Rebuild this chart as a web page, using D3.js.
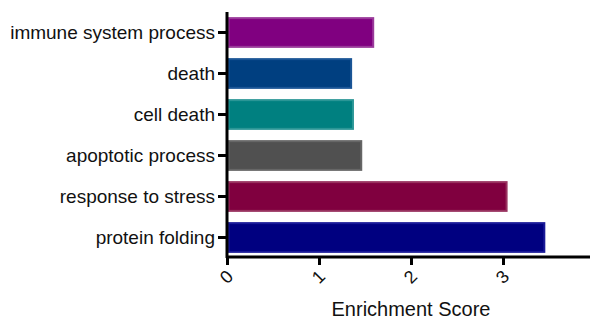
<!DOCTYPE html>
<html>
<head>
<meta charset="utf-8">
<script src="https://cdn.jsdelivr.net/npm/d3@7"></script>
<style>
  body { margin: 0; background: #fff; }
  svg text { font-family: "Liberation Sans", Arial, sans-serif; fill: #111; }
</style>
</head>
<body>
<div class="chart"></div>
<script>
var svgWidth = 590;
var svgHeight = 319;

// data, top bar first
var terms = ["immune system process", "death", "cell death", "apoptotic process", "response to stress", "protein folding"];
var scores = [1.60, 1.36, 1.38, 1.47, 3.05, 3.46];
var fills = ["#800080", "#003f80", "#008080", "#505050", "#80003f", "#000080"];
var edges = ["#9a3a9a", "#1a5596", "#2a9696", "#666666", "#98325f", "#1a1a98"];
var xTicks = [0, 1, 2, 3, 4];

var margin = { top: 12, left: 227 };
var plotH = 246;

var svg = d3.select(".chart")
  .append("svg")
  .attr("width", svgWidth)
  .attr("height", svgHeight);

var chart = svg.append("g")
  .attr("transform", "translate(" + margin.left + "," + margin.top + ")");

var xScale = d3.scaleLinear().domain([0, 4]).range([0, 368]);
var yScale = d3.scaleBand().domain(terms).range([0, plotH]).paddingInner(0.25).paddingOuter(0.125);

chart.selectAll("rect.bar")
  .data(terms)
  .enter()
  .append("rect")
  .attr("class", "bar")
  .attr("x", 1.5)
  .attr("y", function(d) { return yScale(d) + 1; })
  .attr("width", function(d, i) { return xScale(scores[i]) - 2.5; })
  .attr("height", yScale.bandwidth() - 2)
  .attr("fill", function(d, i) { return fills[i]; })
  .attr("stroke", function(d, i) { return edges[i]; })
  .attr("stroke-width", 2);

var bottomAxis = d3.axisBottom(xScale).tickValues(xTicks).tickSize(8).tickFormat(d3.format("d"));
var leftAxis = d3.axisLeft(yScale).tickSize(9).tickPadding(3);

var xg = chart.append("g")
  .attr("transform", "translate(0," + (plotH - 1) + ")")
  .call(bottomAxis);
xg.select(".domain").attr("d", "M0,0H370").attr("stroke", "#000").attr("stroke-width", 3);
xg.selectAll(".tick line").attr("stroke", "#000").attr("stroke-width", 3);
xg.selectAll(".tick text")
  .attr("font-size", 18)
  .attr("y", 0).attr("dy", 0)
  .attr("text-anchor", "middle")
  .attr("transform", "translate(-1,20) rotate(-45)")
  .attr("dominant-baseline", "central");

var yg = chart.append("g").call(leftAxis);
yg.select(".domain").attr("d", "M0,0V" + plotH).attr("stroke", "#000").attr("stroke-width", 3);
yg.selectAll(".tick line").attr("stroke", "#000").attr("stroke-width", 3);
yg.selectAll(".tick text").attr("font-size", 19);

svg.append("text")
  .attr("x", 411)
  .attr("y", 316)
  .attr("text-anchor", "middle")
  .attr("font-size", 20)
  .text("Enrichment Score");
</script>
</body>
</html>
